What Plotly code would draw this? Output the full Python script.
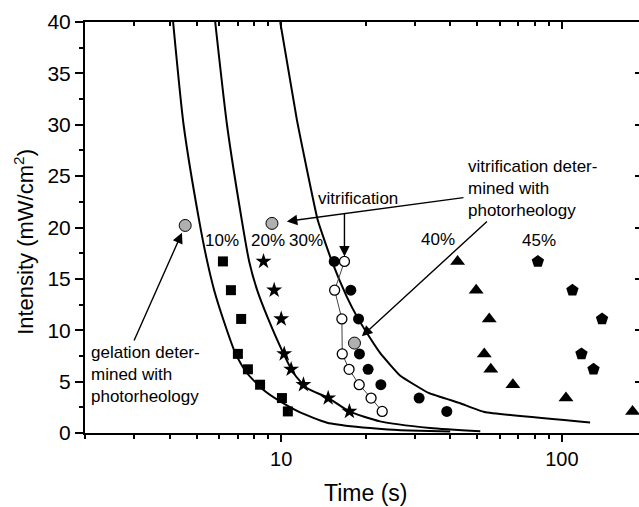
import numpy as np
import plotly.graph_objects as go

# ---------------- data ----------------
rows = [16.7, 13.9, 11.1, 7.7, 6.2, 4.7, 3.4, 2.1]

t_10 = [6.20, 6.62, 7.20, 7.01, 7.61, 8.41, 10.06, 10.56]
I_10 = rows
t_20 = [8.65, 9.44, 10.0, 10.25, 10.85, 12.0, 14.7, 17.5]
I_20 = rows
t_30 = [15.45, 17.7, 18.86, 19.0, 20.4, 22.65, 31.0, 38.9]
I_30 = rows
t_vit = [16.8, 15.5, 16.45, 16.5, 17.45, 18.96, 20.9, 22.9]
I_vit = rows
t_40 = [42.5, 49.5, 55.1, 52.9, 55.8, 66.9, 103.4, 178.5]
I_40 = rows
t_45 = [82.1, 109.0, 139.0, 117.4, 129.6]
I_45 = rows[:5]

t_rheo = [4.55, 9.27, 18.24]
I_rheo = [20.2, 20.4, 8.75]

curve1_t = [4.12, 4.49, 5.10, 5.45, 5.77, 6.21, 6.86, 7.55, 8.63, 9.92, 11.68, 14.58, 18.5, 24.0, 31.0, 40.0]
curve1_I = [40.0, 30.0, 20.7, 16.7, 13.9, 11.1, 7.8, 5.84, 4.21, 3.07, 2.0, 1.0, 0.6, 0.35, 0.22, 0.15]
curve2_t = [5.82, 6.41, 7.24, 7.69, 8.21, 8.99, 10.16, 11.06, 12.35, 14.74, 17.5, 22.5, 33.9, 51.2]
curve2_I = [40.0, 30.0, 20.7, 16.7, 13.9, 11.1, 7.8, 5.84, 4.38, 3.4, 2.1, 1.13, 0.49, 0.16]
curve3_t = [9.92, 11.37, 13.5, 15.16, 17.1, 18.6, 20.2, 22.5, 26.5, 33.5, 43.4, 53.0, 126.0]
curve3_I = [40.0, 30.5, 20.7, 16.7, 13.3, 11.35, 9.73, 7.8, 5.6, 3.9, 2.9, 2.05, 1.03]

x_ticks = [10, 100]
y_ticks = [0, 5, 10, 15, 20, 25, 30, 35, 40]

# ---------------- figure ----------------
FONT = "Arial, Liberation Sans, Helvetica, sans-serif"
fig = go.Figure()

for ct, ci, sm in [(curve1_t, curve1_I, 0.6), (curve2_t, curve2_I, 0.6), (curve3_t, curve3_I, 0.35)]:
    fig.add_trace(go.Scatter(x=ct, y=ci, mode="lines",
                             line=dict(color="black", width=2, shape="spline", smoothing=sm),
                             showlegend=False))

fig.add_trace(go.Scatter(x=t_vit, y=I_vit, mode="lines+markers",
                         line=dict(color="#444444", width=1),
                         marker=dict(symbol="circle", size=10, color="white",
                                     line=dict(color="black", width=1.3)),
                         showlegend=False))
fig.add_trace(go.Scatter(x=t_10, y=I_10, mode="markers",
                         marker=dict(symbol="square", size=10, color="black"), showlegend=False))
fig.add_trace(go.Scatter(x=t_20, y=I_20, mode="markers",
                         marker=dict(symbol="star", size=12, color="black"), showlegend=False))
fig.add_trace(go.Scatter(x=t_30, y=I_30, mode="markers",
                         marker=dict(symbol="circle", size=11, color="black"), showlegend=False))
fig.add_trace(go.Scatter(x=t_40, y=I_40, mode="markers",
                         marker=dict(symbol="triangle-up", size=13, color="black"), showlegend=False))
fig.add_trace(go.Scatter(x=t_45, y=I_45, mode="markers",
                         marker=dict(symbol="pentagon", size=13, color="black"), showlegend=False))
fig.add_trace(go.Scatter(x=t_rheo, y=I_rheo, mode="markers",
                         marker=dict(symbol="circle", size=12, color="#b0b0b0",
                                     line=dict(color="black", width=1)),
                         showlegend=False))
# dummy trace to show the top/right tick axes
fig.add_trace(go.Scatter(x=[10], y=[0], xaxis="x2", yaxis="y2", mode="markers",
                         marker=dict(opacity=0), hoverinfo="skip", showlegend=False))

xr = [np.log10(2.0), np.log10(2.0) + 554 / 280.7]

fig.update_layout(
    width=639, height=507,
    margin=dict(l=85, r=0, t=22, b=74),
    paper_bgcolor="white", plot_bgcolor="white",
    font=dict(family=FONT, color="black"),
    xaxis=dict(type="log", range=xr, tickvals=x_ticks, ticktext=[str(v) for v in x_ticks],
               ticks="outside", ticklen=7, tickwidth=1.5, tickcolor="black",
               minor=dict(dtick="D1", ticks="outside", ticklen=4, tickwidth=1.5, tickcolor="black"),
               showline=True, linewidth=2, linecolor="black", mirror=True,
               showgrid=False, zeroline=False, tickfont=dict(size=20, family=FONT)),
    yaxis=dict(range=[0, 40], tickvals=y_ticks, ticks="outside", ticklen=8, tickwidth=1.5,
               tickcolor="black",
               minor=dict(dtick=2.5, ticks="outside", ticklen=4, tickwidth=1.5, tickcolor="black"),
               showline=True, linewidth=2, linecolor="black",
               showgrid=False, zeroline=False, tickfont=dict(size=21, family=FONT)),
    xaxis2=dict(type="log", range=xr, overlaying="x", side="top", tickvals=x_ticks,
                ticks="inside", ticklen=7, tickwidth=1.5, tickcolor="black",
                minor=dict(dtick="D1", ticks="inside", ticklen=4, tickwidth=1.5, tickcolor="black"),
                showticklabels=False, showline=False, showgrid=False, zeroline=False),
    yaxis2=dict(range=[0, 40], overlaying="y", side="right", tickvals=y_ticks,
                ticks="inside", ticklen=4, tickwidth=1.5, tickcolor="black",
                showticklabels=False, showline=False, showgrid=False, zeroline=False),
)

def px2paper(px, py):
    return (px - 85) / 554.0, (433.3 - py) / 411.3

ann = []
def text(px, py, s, size=17, xanchor="center", yanchor="middle", **kw):
    x, y = px2paper(px, py)
    ann.append(dict(xref="paper", yref="paper", x=x, y=y, text=s, showarrow=False,
                    xanchor=xanchor, yanchor=yanchor, align="left",
                    font=dict(size=size, family=FONT, color="black"), **kw))

text(221.5, 241, "10%")
text(267.5, 241, "20%")
text(306, 241, "30%")
text(438, 240, "40%")
text(539, 241, "45%")
text(358, 199, "vitrification")
text(466, 189, "vitrification deter-<br>mined with<br>photorheology", xanchor="left")
text(89, 375, "gelation deter-<br>mined with<br>photorheology", xanchor="left")
text(365, 493, "Time (s)", size=23)
text(24, 242, "Intensity (mW/cm<sup>2</sup>)", size=22, textangle=-90)

def arrow(xd, yd, ax, ay, standoff):
    ann.append(dict(xref="x", yref="y", x=np.log10(xd), y=yd, ax=ax, ay=ay, text=" ",
                    font=dict(size=1),
                    showarrow=True, arrowhead=2, arrowsize=1.5, arrowwidth=1.4,
                    arrowcolor="black", standoff=standoff))

arrow(t_rheo[0], I_rheo[0], -52, 117, 8)
arrow(t_rheo[1], I_rheo[1], 193, -26, 15)
arrow(t_rheo[2], I_rheo[2], 134, -123, 10)
arrow(t_vit[0], I_vit[0], 0, -50, 5)

fig.update_layout(annotations=ann)
fig.write_html("out.html")
